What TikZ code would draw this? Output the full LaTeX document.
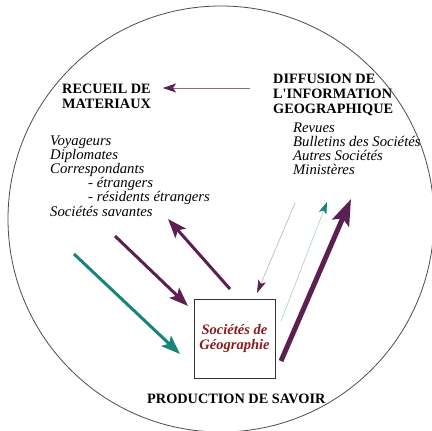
\documentclass[tikz,border=0pt]{standalone}
\usepackage{fontspec}
\setmainfont{Liberation Serif}
\usetikzlibrary{arrows.meta}
\definecolor{purp}{HTML}{5C1F52}
\definecolor{tealc}{HTML}{17857C}
\definecolor{boxred}{HTML}{8B1A1A}
\definecolor{thingrey}{HTML}{BDBDBD}
\definecolor{thinteal}{HTML}{B5D2CF}
\definecolor{hlinec}{HTML}{8E6C88}
\tikzset{
  head/.style={font=\fontsize{14.3}{15}\selectfont\bfseries, anchor=base west, inner sep=0pt},
  item/.style={font=\fontsize{14.7}{15}\selectfont\itshape, anchor=base west, inner sep=0pt},
  boxtxt/.style={font=\fontsize{14.5}{15}\selectfont\bfseries\itshape, text=boxred, anchor=base, inner sep=0pt},
  medarrow/.style={line width=3pt, -{Stealth[length=19pt,width=14pt,inset=4pt]}},
  bigarrow/.style={line width=5pt, -{Stealth[length=26pt,width=18pt,inset=5pt]}},
  thinarrow/.style={line width=0.7pt, -{Stealth[length=13pt,width=8pt,inset=3pt]}},
}
\begin{document}
\begin{tikzpicture}[x=1pt,y=-1pt]
\useasboundingbox (0,0) rectangle (432,431);
\fill[white] (0,0) rectangle (432,431);
\draw[line width=0.8pt, black!70] (221,219) circle [radius=213pt];

% headings
\node[head] (rec1) at (62,93) {RECUEIL DE};
\node[head] (rec2) at (62,108) {MATERIAUX};
\node[head] (dif1) at (273,83) {DIFFUSION DE};
\node[head] (dif2) at (273,98) {L\textquotesingle INFORMATION};
\node[head] (dif3) at (273,113) {GEOGRAPHIQUE};
\node[head] (prod) at (147,403) {PRODUCTION DE SAVOIR};

% left list
\node[item] (l1) at (50,145) {Voyageurs};
\node[item] (l2) at (50,159) {Diplomates};
\node[item] (l3) at (50,173) {Correspondants};
\node[item] (l4) at (88,187) {- étrangers};
\node[item] (l5) at (88,201) {- résidents étrangers};
\node[item] (l6) at (50,216) {Sociétés savantes};

% right list
\node[item] (r1) at (293,132) {Revues};
\node[item] (r2) at (293,146) {Bulletins des Sociétés};
\node[item] (r3) at (293,160) {Autres Sociétés};
\node[item] (r4) at (293,174) {Ministères};

% central box
\draw[line width=0.6pt, black!80] (194,299) rectangle (275,378);
\node[boxtxt] (b1) at (234.5,334) {Sociétés de};
\node[boxtxt] (b2) at (234.5,349) {Géographie};

% connector end points
\coordinate (hS) at (250,88);
\coordinate (hE) at (163,88);
\coordinate (tS) at (74,254);
\coordinate (tE) at (180,354);
\coordinate (pS) at (115,236);
\coordinate (pE) at (188,306);
\coordinate (qS) at (230,289);
\coordinate (qE) at (168,219);
\coordinate (gS) at (295,203);
\coordinate (gE) at (257,293);
\coordinate (cS) at (281,321);
\coordinate (cE) at (327,202);
\coordinate (kS) at (281,361);
\coordinate (kE) at (351,199);

% connectors
\draw[line width=0.8pt, hlinec, -{Stealth[length=13pt,width=9pt,inset=3pt,color=purp]}] (hS) -- (hE);
\draw[medarrow, tealc] (tS) -- (tE);
\draw[medarrow, purp] (pS) -- (pE);
\draw[medarrow, purp] (qS) -- (qE);
\draw[thinarrow, thingrey, -{Stealth[length=13pt,width=8pt,inset=3pt,color=purp]}] (gS) -- (gE);
\draw[thinarrow, thinteal, -{Stealth[length=12pt,width=8pt,inset=3pt,color=tealc]}] (cS) -- (cE);
\draw[bigarrow, purp] (kS) -- (kE);
\end{tikzpicture}
\end{document}
